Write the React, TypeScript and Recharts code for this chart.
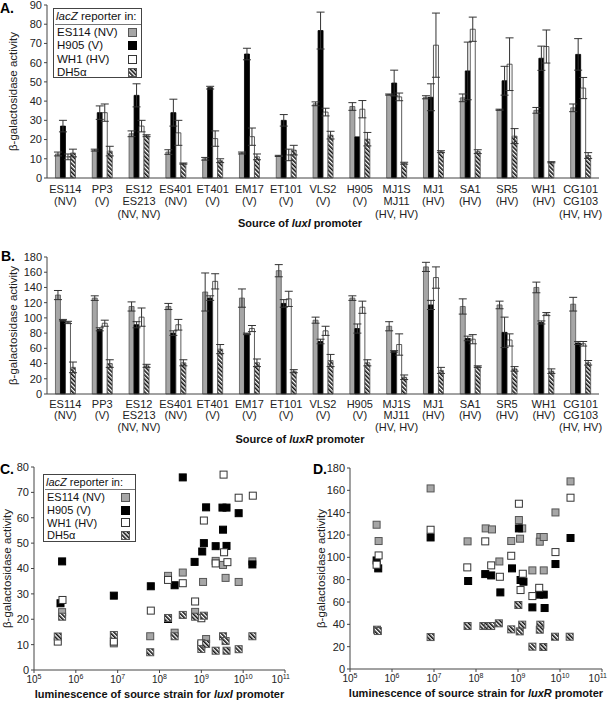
import React from 'react'
import { BarChart, Bar, ErrorBar, XAxis, YAxis, ScatterChart, Scatter } from 'recharts'

// categories shared by panels A and B
const strains = [
  'ES114\n(NV)',
  'PP3\n(V)',
  'ES12\nES213\n(NV, NV)',
  'ES401\n(NV)',
  'ET401\n(V)',
  'EM17\n(V)',
  'ET101\n(V)',
  'VLS2\n(V)',
  'H905\n(V)',
  'MJ1S\nMJ11\n(HV, HV)',
  'MJ1\n(HV)',
  'SA1\n(HV)',
  'SR5\n(HV)',
  'WH1\n(HV)',
  'CG101\nCG103\n(HV, HV)',
]

// panel A: luxI promoter reporters
const luxIEs114 = [12.5, 14.5, 23, 13.5, 10, 13, 11.5, 38.6, 37.2, 43.4, 42, 41.7, 35.5, 35.2, 36.5]
const luxIEs114Err = [1, 0.5, 1.5, 1.2, 0.7, 0.5, 0.3, 1, 2, 0.3, 0.8, 2, 0.3, 1.5, 2]
const luxIH905 = [27, 34, 43, 34, 47, 64.5, 30, 76.7, 21.4, 49.4, 42, 55.7, 50.6, 62.3, 64.3]
const luxIH905Err = [3, 3.5, 6, 7, 0.7, 3, 3, 9.6, 0, 6.7, 7, 15, 7.5, 6.3, 8.2]
const luxIWh1 = [11, 34, 27, 23.5, 20.5, 21.5, 12, 34.3, 35.8, 42.2, 69.1, 77.4, 59.2, 68.4, 46.8]
const luxIWh1Err = [1.5, 4.5, 3, 6.5, 4, 4.5, 3, 2, 4.5, 2, 16.7, 6.3, 13.7, 8.6, 5.5]
const luxIDh5a = [13, 14, 22, 7.5, 9, 11, 14.5, 22.3, 20.2, 7.7, 13.7, 13.7, 21.8, 8.2, 11.7]
const luxIDh5aErr = [2, 2.5, 0.5, 0.3, 1, 1.5, 2.5, 2, 3.5, 0.5, 0.5, 1, 3.9, 0.3, 1.5]

// panel B: luxR promoter reporters
const luxREs114 = [130, 126, 115, 115, 134, 126, 162, 97, 126, 89, 167, 115, 117, 140, 118]
const luxREs114Err = [6, 3, 6, 4, 25, 12, 8, 4, 3, 6, 6, 10, 5, 7, 9]
const luxRH905 = [97, 85, 91, 80, 126, 79, 119, 69, 86, 56, 117, 73, 81, 94, 67]
const luxRH905Err = [1, 2, 4, 3, 3, 1, 5, 3, 6, 1, 6, 3, 20, 2, 2]
const luxRWh1 = [94, 93, 101, 91, 148, 86, 125, 83, 114, 65, 153, 72, 71, 105, 66]
const luxRWh1Err = [1.5, 4, 12, 7, 10, 4, 10, 6, 8, 14, 14, 6, 8, 2, 3]
const luxRDh5a = [35, 40, 37, 41, 59, 41, 30, 44, 41, 22, 31, 36, 33, 30, 41]
const luxRDh5aErr = [7, 5, 2, 4, 6, 5, 2, 8, 4, 3, 4, 1, 3, 3, 3]

// panel C: [luminescence, activity] for luxI promoter
const cEs114 = [[4.7e5, 22.8], [8.1e6, 10.5], [6.0e7, 13.3], [1.6e8, 37.1], [2.3e8, 14.7], [3.6e8, 38.4], [7.1e8, 22.9], [1.0e9, 9.9], [1.1e9, 34.7], [1.3e9, 12.2], [2.2e9, 43], [3.3e9, 41.4], [3.8e9, 36.3], [7.8e9, 34.7], [1.66e10, 42.8]]
const cH905 = [[4.7e5, 42.8], [4.3e5, 26.3], [8.1e6, 29.3], [6.2e7, 33], [1.6e8, 20.1], [2.3e8, 33.4], [3.6e8, 75.9], [6.9e8, 42.6], [1.05e9, 46.7], [1.15e9, 50], [1.3e9, 64.1], [2.2e9, 48.8], [3.3e9, 55.3], [3.2e9, 64], [4.0e9, 64], [4.0e9, 48.9], [7.8e9, 61.8], [1.66e10, 41.6]]
const cWh1 = [[4.8e5, 27.6], [3.7e5, 11.2], [8.1e6, 11.2], [6.2e7, 23.4], [1.6e8, 35.5], [3.6e8, 34.2], [7.1e8, 27], [1.0e9, 20.4], [1.0e9, 10.5], [1.15e9, 58.9], [2.2e9, 42], [3.5e9, 46.4], [4.2e9, 42.5], [3.4e9, 77], [7.8e9, 67.9], [1.7e10, 68.7]]
const cDh5a = [[3.7e5, 13.2], [4.7e5, 21], [8.1e6, 13.8], [6.0e7, 7], [1.6e8, 20.5], [2.3e8, 13.3], [3.6e8, 21.7], [7.1e8, 21], [1.0e9, 8.3], [1.15e9, 21.4], [1.3e9, 10.3], [2.2e9, 7.6], [3.3e9, 13.3], [3.8e9, 11.4], [4.0e9, 7.6], [7.8e9, 8.2], [1.66e10, 13.3]]

// panel D: [luminescence, activity] for luxR promoter
const dEs114 = [[4.3e5, 129.2], [4.8e5, 114.6], [8.3e6, 161.7], [6.3e7, 114.3], [1.7e8, 125.9], [2.4e8, 125], [3.6e8, 96.3], [6.9e8, 114.6], [1.05e9, 133.4], [1.12e9, 116.7], [1.26e9, 125.9], [2.2e9, 88.3], [3.4e9, 118.2], [3.3e9, 114], [4.1e9, 118.2], [4.1e9, 88.3], [7.8e9, 140.2], [1.78e10, 168]]
const dH905 = [[4.3e5, 97.2], [4.7e5, 90.1], [8.3e6, 117.8], [6.5e7, 78.8], [1.66e8, 85], [2.3e8, 83.8], [3.8e8, 68.6], [7.2e8, 90.1], [1.05e9, 125.9], [1.15e9, 79.7], [1.35e9, 78.2], [2.2e9, 55.2], [3.2e9, 66.6], [4.3e9, 54.6], [4.1e9, 66.6], [7.8e9, 94], [1.78e10, 117.3]]
const dWh1 = [[4.8e5, 101.7], [4.3e5, 93.4], [8.3e6, 124.7], [6.2e7, 91], [1.66e8, 114.3], [2.3e8, 92.8], [3.7e8, 82.6], [6.9e8, 101.4], [1.05e9, 148], [1.15e9, 70.7], [1.3e9, 85.3], [2.2e9, 65.3], [3.2e9, 72.7], [7.8e9, 104.7], [1.78e10, 153.4]]
const dDh5a = [[4.4e5, 35.2], [4.6e5, 34], [8.3e6, 28.6], [6.3e7, 38.5], [1.5e8, 38.5], [1.95e8, 38.5], [2.3e8, 38.5], [3.5e8, 40.9], [6.9e8, 35.5], [1.02e9, 57.3], [1.1e9, 33.7], [1.26e9, 39.7], [3.4e9, 39.7], [3.3e9, 35.2], [2.2e9, 20], [4.0e9, 19.7], [7.6e9, 28.9], [1.7e10, 28.9]]

const luxITicks = [0, 10, 20, 30, 40, 50, 60, 70, 80, 90]
const luxRTicks = [0, 20, 40, 60, 80, 100, 120, 140, 160, 180]
const scatterCTicks = [0, 10, 20, 30, 40, 50, 60, 70, 80]
const lumTicks = [1e5, 1e6, 1e7, 1e8, 1e9, 1e10, 1e11]

const FONT = '"Liberation Sans", Arial, sans-serif'
const AXIS = '#444'

const reporters = [
  { key: 'es114', label: 'ES114 (NV)', fill: '#a6a6a6', stroke: '#555' },
  { key: 'h905', label: 'H905 (V)', fill: '#000', stroke: '#000' },
  { key: 'wh1', label: 'WH1 (HV)', fill: '#fff', stroke: '#333' },
  { key: 'dh5a', label: 'DH5α', fill: 'url(#hatch)', stroke: '#555' },
]

const luxIData = strains.map((name, i) => ({
  name,
  es114: luxIEs114[i], es114Err: luxIEs114Err[i],
  h905: luxIH905[i], h905Err: luxIH905Err[i],
  wh1: luxIWh1[i], wh1Err: luxIWh1Err[i],
  dh5a: luxIDh5a[i], dh5aErr: luxIDh5aErr[i],
}))

const luxRData = strains.map((name, i) => ({
  name,
  es114: luxREs114[i], es114Err: luxREs114Err[i],
  h905: luxRH905[i], h905Err: luxRH905Err[i],
  wh1: luxRWh1[i], wh1Err: luxRWh1Err[i],
  dh5a: luxRDh5a[i], dh5aErr: luxRDh5aErr[i],
}))

const toPoints = (pairs: number[][]) => pairs.map(([x, y]) => ({ x, y }))
const cSeries = { es114: toPoints(cEs114), h905: toPoints(cH905), wh1: toPoints(cWh1), dh5a: toPoints(cDh5a) }
const dSeries = { es114: toPoints(dEs114), h905: toPoints(dH905), wh1: toPoints(dWh1), dh5a: toPoints(dDh5a) }

function StrainTick({ x, y, payload, first, step }: any) {
  const lines = String(payload.value).split('\n')
  return (
    <text x={x} y={y} textAnchor="middle" fontSize={11} fill="#222">
      {lines.map((l, i) => (
        <tspan key={i} x={x} dy={i === 0 ? first : step}>{l}</tspan>
      ))}
    </text>
  )
}

function PowerTick({ x, y, payload, index, visibleTicksCount }: any) {
  const exp = Math.round(Math.log10(payload.value))
  // keep the last label inside the picture
  const last = visibleTicksCount != null && index === visibleTicksCount - 1
  return (
    <text x={last ? x + 5 : x} y={y} dy={8} textAnchor={last ? 'end' : 'middle'} fontSize={10} fill="#222">
      10<tspan dy={-4} fontSize={7}>{exp}</tspan>
    </text>
  )
}

const yTitle = (cx: number) => (props: any) => {
  const vb = props.viewBox
  const cy = vb.y + vb.height / 2
  return (
    <text x={cx} y={cy} transform={`rotate(-90 ${cx} ${cy})`} textAnchor="middle" dominantBaseline="central" fontSize={11.5} fill="#222">
      β-galactosidase activity
    </text>
  )
}

const xTitle = (pre: string, gene: string, post: string, cx: number | null, dy: number) => (props: any) => {
  const vb = props.viewBox
  const x = cx ?? vb.x + vb.width / 2
  return (
    <text x={x} y={vb.y + dy} textAnchor="middle" fontSize={11} fontWeight="bold" fill="#111">
      {pre}<tspan fontStyle="italic">{gene}</tspan>{post}
    </text>
  )
}

const square = (fill: string, stroke: string) => (p: any) => (
  <rect x={p.cx - 3.5} y={p.cy - 3.5} width={7} height={7} fill={fill} stroke={stroke} strokeWidth={1} />
)

function ReporterKey({ left, top, width, height, rowTop, rowH, swatchX, fontSize }: any) {
  return (
    <div style={{ position: 'absolute', left, top, width, height, border: '1px solid #444', boxSizing: 'border-box', background: '#fff', fontSize, color: '#111', whiteSpace: 'nowrap' }}>
      <div style={{ position: 'absolute', left: 2, top: 0, lineHeight: '14px' }}>
        <i>lacZ</i> reporter in:
      </div>
      <div style={{ position: 'absolute', left: 1, right: 0, top: rowTop - 2, borderTop: '1px solid #777' }} />
      {reporters.map((r, i) => (
        <div key={r.key} style={{ position: 'absolute', left: 3, top: rowTop + i * rowH, height: rowH, lineHeight: `${rowH}px`, width: width - 4 }}>
          {r.label}
          <svg width={9} height={9} style={{ position: 'absolute', left: swatchX, top: (rowH - 9) / 2 }}>
            <rect x={0.5} y={0.5} width={8} height={8} fill={r.fill} stroke={r.stroke} />
          </svg>
        </div>
      ))}
    </div>
  )
}

function PanelLetter({ left, top, text }: any) {
  return (
    <div style={{ position: 'absolute', left, top, fontSize: 14, fontWeight: 'bold', lineHeight: '14px' }}>{text}</div>
  )
}

function BarPanel({ data, ticks, max, gene, top, height, marginTop, axisH, tickFirst, tickStep }: any) {
  return (
    <div style={{ position: 'absolute', left: 0, top }}>
      <BarChart width={608} height={height} data={data} margin={{ top: marginTop, right: 9, bottom: 0, left: 0 }} barGap={0} barCategoryGap="23%">
        <XAxis dataKey="name" height={axisH} interval={0} tickLine={false} tickSize={0} tickMargin={0} stroke={AXIS}
          tick={<StrainTick first={tickFirst} step={tickStep} />}
          label={xTitle('Source of ', gene, ' promoter', 300, 49)} />
        <YAxis domain={[0, max]} ticks={ticks} interval={0} width={47} tickSize={3} tickMargin={2} stroke={AXIS}
          tick={{ fontSize: 11, fill: '#222' }} label={yTitle(13)} />
        <XAxis xAxisId="top" dataKey="name" orientation="top" height={0} tick={false} tickLine={false} stroke={AXIS} />
        <YAxis yAxisId="right" orientation="right" domain={[0, max]} width={0} tick={false} tickLine={false} stroke={AXIS} />
        {reporters.map((r) => (
          <Bar key={r.key} dataKey={r.key} fill={r.fill} stroke={r.stroke} strokeWidth={0.8} isAnimationActive={false}>
            <ErrorBar dataKey={r.key + 'Err'} width={4} stroke="#333" strokeWidth={1} direction="y" />
          </Bar>
        ))}
      </BarChart>
    </div>
  )
}

function ScatterPanel({ series, ticks, max, gene, left, width, marginTop, marginRight, yWidth, axisH, titleX }: any) {
  return (
    <div style={{ position: 'absolute', left, top: 460 }}>
      <ScatterChart width={width} height={243} margin={{ top: marginTop, right: marginRight, bottom: 0, left: 0 }}>
        <XAxis type="number" dataKey="x" scale="log" domain={[1e5, 1e11]} ticks={lumTicks} interval={0} allowDataOverflow
          height={axisH} tickSize={3} tickMargin={2} stroke={AXIS} tick={<PowerTick />}
          label={xTitle('luminescence of source strain for ', gene, ' promoter', null, 28)} />
        <YAxis type="number" dataKey="y" domain={[0, max]} ticks={ticks} interval={0} width={yWidth} tickSize={3} tickMargin={2}
          stroke={AXIS} tick={{ fontSize: 11, fill: '#222' }} label={yTitle(titleX)} />
        <XAxis xAxisId="top" type="number" orientation="top" scale="log" domain={[1e5, 1e11]} height={0} tick={false} tickLine={false} stroke={AXIS} />
        <YAxis yAxisId="right" type="number" orientation="right" domain={[0, max]} width={0} tick={false} tickLine={false} stroke={AXIS} />
        {reporters.map((r) => (
          <Scatter key={r.key} data={series[r.key]} shape={square(r.fill, r.stroke)} isAnimationActive={false} />
        ))}
      </ScatterChart>
    </div>
  )
}

export default function App() {
  return (
    <div style={{ position: 'fixed', left: 0, top: 0, width: 608, height: 703, background: '#fff', fontFamily: FONT, overflow: 'hidden' }}>
      <svg width={0} height={0} style={{ position: 'absolute' }}>
        <defs>
          <pattern id="hatch" patternUnits="userSpaceOnUse" width={3} height={3} patternTransform="rotate(-45)">
            <rect width={3} height={3} fill="#fff" />
            <rect width={1.6} height={3} fill="#111" />
          </pattern>
        </defs>
      </svg>

      <BarPanel data={luxIData} ticks={luxITicks} max={90} gene="luxI" top={0} height={240} marginTop={5} axisH={62} tickFirst={14.5} tickStep={12.5} />
      <BarPanel data={luxRData} ticks={luxRTicks} max={180} gene="luxR" top={240} height={220} marginTop={17} axisH={66} tickFirst={13.5} tickStep={11.5} />

      <ScatterPanel series={cSeries} ticks={scatterCTicks} max={80} gene="luxI" left={0} width={320} marginTop={7} marginRight={35} yWidth={34} axisH={33} titleX={7} />
      <ScatterPanel series={dSeries} ticks={luxRTicks} max={180} gene="luxR" left={300} width={308} marginTop={8} marginRight={6} yWidth={50} axisH={34} titleX={21} />

      <ReporterKey left={53} top={8} width={89} height={70} rowTop={17} rowH={13.3} swatchX={71} fontSize={11.5} />
      <ReporterKey left={43} top={474} width={93} height={68} rowTop={16} rowH={12.8} swatchX={74} fontSize={11} />

      <PanelLetter left={0} top={1} text="A." />
      <PanelLetter left={1} top={249} text="B." />
      <PanelLetter left={0} top={462} text="C." />
      <PanelLetter left={313} top={462} text="D." />
    </div>
  )
}
